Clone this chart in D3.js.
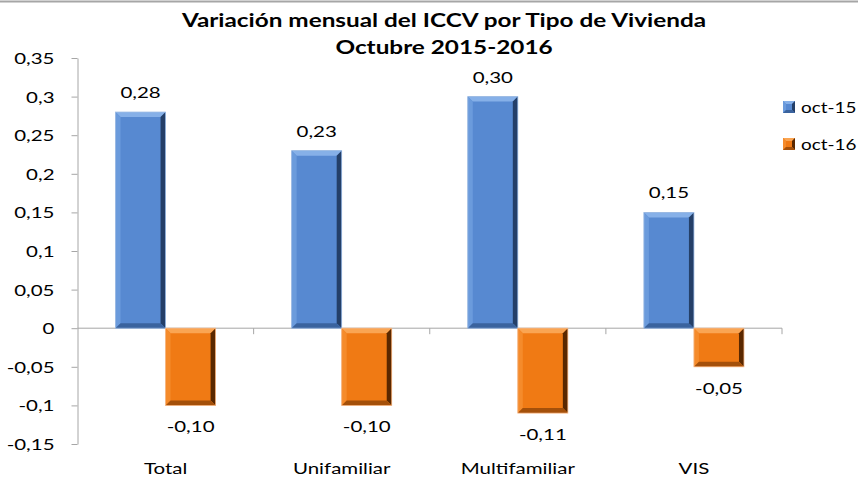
<!DOCTYPE html>
<html>
<head>
<meta charset="utf-8">
<script src="https://cdn.jsdelivr.net/npm/d3@7"></script>
<style>
  body { margin: 0; background: #fff; }
  svg text { font-family: Lato, "Open Sans", sans-serif; fill: #000; }
</style>
</head>
<body>
<div id="chart"></div>
<script>
// data
const categories = ['Total', 'Unifamiliar', 'Multifamiliar', 'VIS'];
const seriesNames = ['oct-15', 'oct-16'];
const oct15 = [0.28, 0.23, 0.30, 0.15];
const oct16 = [-0.10, -0.10, -0.11, -0.05];
const yTicks = [-0.15, -0.1, -0.05, 0, 0.05, 0.1, 0.15, 0.2, 0.25, 0.3, 0.35];
const titleLines = ['Variación mensual del ICCV por Tipo de Vivienda', 'Octubre 2015-2016'];

const W = 858, H = 477;
const SX = 1.28; // text in the picture is stretched sideways
const comma = v => String(v).replace('.', ',');
const fmt2 = v => v.toFixed(2).replace('.', ',');

const palette = {
  'oct-15': { face: '#5789d1', top: '#86b0e8', left: '#6b9bdc', right: '#243f68', bottom: '#3a639e', stroke: '#9dbbe3' },
  'oct-16': { face: '#f07a14', top: '#faa553', left: '#f58b2b', right: '#5a2800', bottom: '#a4500a', stroke: '#f5b888' }
};

const svg = d3.select('#chart').append('svg')
  .attr('width', W).attr('height', H);

// stretched text helper
function stext(g, x, y, str, anchor, size, weight, sx) {
  return g.append('text')
    .attr('transform', `translate(${x},${y}) scale(${sx || SX},1)`)
    .attr('text-anchor', anchor || 'middle')
    .style('font-size', (size || 16) + 'px')
    .style('font-weight', weight || 'normal')
    .text(str);
}

// thin frame line at top
svg.append('line')
  .attr('x1', 0).attr('x2', W).attr('y1', 1.5).attr('y2', 1.5)
  .attr('stroke', '#a6a6a6').attr('stroke-width', 2);

// title
stext(svg, 444, 27, titleLines[0], 'middle', 19, 'bold');
stext(svg, 444, 54, titleLines[1], 'middle', 19, 'bold');

const left = 77.5, right = 782;
const y = d3.scaleLinear().domain([-0.15, 0.35]).range([444, 58]);
const x0 = d3.scaleBand().domain(categories).range([left, right]);
const x1 = d3.scaleBand().domain(seriesNames).range([0, x0.bandwidth()])
  .paddingInner(0).paddingOuter(0.76);

// y axis
const yAxis = svg.append('g')
  .attr('transform', `translate(${left},0)`)
  .call(d3.axisLeft(y).tickValues(yTicks).tickSize(6).tickSizeOuter(0).tickFormat(comma));
yAxis.select('.domain').attr('stroke', '#a6a6a6');
yAxis.selectAll('.tick line').attr('stroke', '#a6a6a6');
yAxis.selectAll('.tick text').remove();
yAxis.selectAll('.tick').each(function(d) {
  stext(d3.select(this), -23, 5.5, comma(d), 'end', 16);
});

// x axis along zero
const xAxis = svg.append('g')
  .attr('transform', `translate(0,${y(0)})`);
xAxis.append('line')
  .attr('x1', left).attr('x2', right).attr('y1', 0).attr('y2', 0)
  .attr('stroke', '#a6a6a6');
xAxis.selectAll('.xt')
  .data(categories)
  .enter().append('line')
  .attr('x1', d => x0(d) + x0.bandwidth()).attr('x2', d => x0(d) + x0.bandwidth())
  .attr('y1', 0).attr('y2', 6)
  .attr('stroke', '#a6a6a6');

// category labels
categories.forEach(c => {
  stext(svg, x0(c) + x0.bandwidth() / 2, 474, c, 'middle', 16);
});

// beveled bar
function bevelBar(g, x, yy, w, h, col) {
  const b = Math.min(5, w / 4, h / 4);
  const poly = (pts, fill) => g.append('polygon')
    .attr('points', pts.map(p => p.join(',')).join(' '))
    .attr('fill', fill);
  g.append('rect').attr('x', x).attr('y', yy).attr('width', w).attr('height', h)
    .attr('fill', col.face);
  poly([[x, yy], [x + w, yy], [x + w - b, yy + b], [x + b, yy + b]], col.top);
  poly([[x, yy], [x + b, yy + b], [x + b, yy + h - b], [x, yy + h]], col.left);
  poly([[x + w, yy], [x + w, yy + h], [x + w - b, yy + h - b], [x + w - b, yy + b]], col.right);
  poly([[x, yy + h], [x + b, yy + h - b], [x + w - b, yy + h - b], [x + w, yy + h]], col.bottom);
  g.append('rect').attr('x', x).attr('y', yy).attr('width', w).attr('height', h)
    .attr('fill', 'none').attr('stroke', col.stroke).attr('stroke-width', 0.8);
}

const rows = categories.map((c, i) => ({ cat: c, vals: [
  { s: 'oct-15', v: oct15[i] },
  { s: 'oct-16', v: oct16[i] }
] }));

const bars = svg.append('g');
rows.forEach(r => {
  r.vals.forEach(d => {
    const bx = x0(r.cat) + x1(d.s);
    const bw = x1.bandwidth();
    const top = y(Math.max(0, d.v));
    const bot = y(Math.min(0, d.v));
    bevelBar(bars, bx, top, bw, bot - top, palette[d.s]);
    const ly = d.v >= 0 ? top - 14 : bot + 27;
    stext(bars, bx + bw / 2, ly, fmt2(d.v), 'middle', 16);
  });
});

// legend
const legend = svg.append('g');
seriesNames.forEach((s, i) => {
  const ly = 107 + i * 37;
  bevelBar(legend, 783, ly - 6, 12, 12, Object.assign({}, palette[s], { stroke: 'none' }));
  stext(legend, 801, ly + 6, s, 'start', 16, 'normal', 1.18);
});
</script>
</body>
</html>
